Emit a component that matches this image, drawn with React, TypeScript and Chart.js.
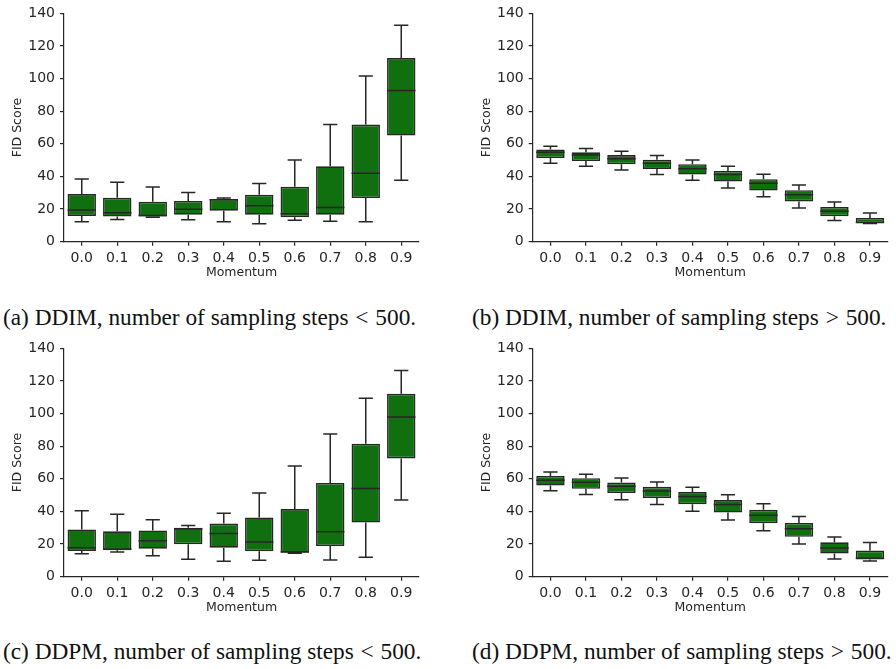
import React, { useEffect, useRef } from "react";
import { Chart, registerables } from "chart.js";

Chart.register(...registerables);

const momentum = ["0.0", "0.1", "0.2", "0.3", "0.4", "0.5", "0.6", "0.7", "0.8", "0.9"];
const yMin = 0;
const yMax = 140;
const yStep = 20;

// (a) DDIM, steps < 500
const ddimLowMin = [12.2, 13.6, 15.0, 13.4, 12.2, 11.0, 13.2, 12.6, 12.2, 37.7];
const ddimLowQ1 = [15.8, 15.4, 15.4, 16.6, 19.0, 16.6, 15.0, 16.6, 26.8, 65.1];
const ddimLowMed = [19.5, 17.8, 16.0, 19.9, 25.8, 22.1, 17.2, 20.9, 42.0, 92.7];
const ddimLowQ3 = [29.2, 27.0, 24.5, 25.0, 26.2, 28.8, 33.7, 46.2, 71.8, 112.6];
const ddimLowMax = [38.5, 36.5, 33.5, 30.2, 26.8, 35.7, 50.1, 71.8, 101.6, 132.7];

// (b) DDIM, steps > 500
const ddimHighMin = [48.1, 46.2, 44.0, 41.2, 37.7, 33.0, 27.6, 20.7, 13.0, 11.2];
const ddimHighQ1 = [51.3, 49.5, 47.5, 44.6, 41.2, 36.9, 31.4, 24.7, 15.6, 11.4];
const ddimHighMed = [54.8, 53.1, 50.9, 48.1, 44.8, 41.2, 35.9, 28.8, 18.7, 11.8];
const ddimHighQ3 = [56.6, 54.8, 53.1, 50.3, 47.5, 43.4, 38.3, 31.6, 21.3, 14.6];
const ddimHighMax = [58.6, 57.2, 55.4, 52.9, 50.1, 46.2, 41.4, 34.7, 24.3, 17.6];

// (c) DDPM, steps < 500
const ddpmLowMin = [14.0, 15.2, 12.8, 10.7, 9.5, 10.1, 14.4, 10.3, 12.0, 47.0];
const ddpmLowQ1 = [15.8, 16.2, 17.2, 19.9, 17.8, 15.6, 14.8, 18.8, 33.2, 72.5];
const ddpmLowMed = [17.8, 17.0, 22.1, 29.2, 26.5, 21.3, 15.2, 27.6, 54.1, 97.9];
const ddpmLowQ3 = [29.0, 27.8, 28.4, 30.0, 32.6, 36.3, 41.5, 57.5, 81.6, 112.2];
const ddpmLowMax = [40.5, 38.3, 35.0, 31.4, 38.9, 51.3, 67.9, 87.5, 109.4, 126.4];

// (d) DDPM, steps > 500
const ddpmHighMin = [52.7, 50.4, 47.2, 44.2, 40.1, 34.8, 28.2, 20.1, 10.9, 9.7];
const ddpmHighQ1 = [55.9, 53.9, 51.3, 48.2, 44.4, 39.3, 32.8, 24.5, 14.2, 10.5];
const ddpmHighMed = [59.2, 57.9, 55.5, 52.5, 49.2, 44.2, 37.7, 29.4, 17.6, 11.3];
const ddpmHighQ3 = [61.8, 60.4, 57.7, 55.1, 51.9, 47.0, 41.1, 33.0, 21.1, 16.0];
const ddpmHighMax = [64.2, 62.8, 60.6, 58.1, 54.9, 50.2, 44.8, 36.9, 24.3, 20.9];

const xTitle = "Momentum";
const yTitle = "FID Score";
const captionLabels = ["(a) DDIM", "(b) DDIM", "(c) DDPM", "(d) DDPM"];
const captionMiddle = ", number of sampling steps";
const captionOps = ["<", ">", "<", ">"];
const captionValue = "500.";

const BOX_FILL = "#107010";
const EDGE = "#262626";
const TEXT = "#262626";
const FONT = "'DejaVu Sans', sans-serif";

type PanelProps = {
  min: number[];
  q1: number[];
  med: number[];
  q3: number[];
  max: number[];
  left: number;
  top: number;
  width: number;
  padLeft: number;
  padRight: number;
};

function BoxPanel(p: PanelProps) {
  const ref = useRef<HTMLCanvasElement | null>(null);
  useEffect(() => {
    if (!ref.current) return;
    const whiskerPlugin = {
      id: "whiskers",
      afterDatasetsDraw(chart: any) {
        const ctx = chart.ctx;
        const meta = chart.getDatasetMeta(0);
        const ys = chart.scales.y;
        ctx.save();
        ctx.strokeStyle = EDGE;
        ctx.lineWidth = 1.5;
        meta.data.forEach((bar: any, i: number) => {
          const x = bar.x;
          const w = bar.width;
          const yLo = ys.getPixelForValue(p.min[i]);
          const yQ1 = ys.getPixelForValue(p.q1[i]);
          const yMd = ys.getPixelForValue(p.med[i]);
          const yQ3 = ys.getPixelForValue(p.q3[i]);
          const yHi = ys.getPixelForValue(p.max[i]);
          ctx.beginPath();
          ctx.moveTo(x, yQ3);
          ctx.lineTo(x, yHi);
          ctx.moveTo(x - w / 4, yHi);
          ctx.lineTo(x + w / 4, yHi);
          ctx.moveTo(x, yQ1);
          ctx.lineTo(x, yLo);
          ctx.moveTo(x - w / 4, yLo);
          ctx.lineTo(x + w / 4, yLo);
          ctx.moveTo(x - w / 2, yMd);
          ctx.lineTo(x + w / 2, yMd);
          ctx.stroke();
        });
        ctx.restore();
      },
    };
    const chart = new Chart(ref.current, {
      type: "bar",
      data: {
        labels: momentum,
        datasets: [
          {
            data: p.q1.map((v, i) => [v, p.q3[i]]) as any,
            backgroundColor: BOX_FILL,
            borderColor: EDGE,
            borderWidth: 1.6,
            borderSkipped: false,
            barPercentage: 0.8,
            categoryPercentage: 1,
          },
        ],
      },
      options: {
        animation: false,
        responsive: false,
        maintainAspectRatio: false,
        layout: { padding: { left: p.padLeft, right: p.padRight, top: 11.7, bottom: 0 } },
        plugins: { legend: { display: false }, tooltip: { enabled: false } },
        scales: {
          x: {
            type: "category",
            offset: true,
            grid: {
              display: true,
              offset: false,
              drawOnChartArea: false,
              drawTicks: true,
              tickLength: 4,
              color: EDGE,
              lineWidth: 1.2,
            },
            border: { display: true, color: EDGE, width: 1.2 },
            ticks: { color: TEXT, font: { family: FONT, size: 14 }, padding: 4, maxRotation: 0 },
            title: {
              display: true,
              text: xTitle,
              color: TEXT,
              font: { family: FONT, size: 12.5 },
              padding: { top: 0, bottom: 9.5 },
            },
            afterFit(scale: any) {
              scale.height = 48.3;
            },
          },
          y: {
            min: yMin,
            max: yMax,
            grid: {
              display: true,
              drawOnChartArea: false,
              drawTicks: true,
              tickLength: 4,
              color: EDGE,
              lineWidth: 1.2,
            },
            border: { display: true, color: EDGE, width: 1.2 },
            ticks: { stepSize: yStep, color: TEXT, font: { family: FONT, size: 14 }, padding: 5 },
            title: {
              display: true,
              text: yTitle,
              color: TEXT,
              font: { family: FONT, size: 12.5 },
              padding: { top: 10.5, bottom: 0 },
            },
            afterFit(scale: any) {
              scale.width = 64;
            },
          },
        },
      } as any,
      plugins: [whiskerPlugin],
    });
    return () => chart.destroy();
  }, []);
  return (
    <div style={{ position: "absolute", left: p.left, top: p.top, width: p.width, height: 290 }}>
      <canvas ref={ref} width={p.width} height={290} style={{ display: "block" }} />
    </div>
  );
}

function Caption({ idx, left, top }: { idx: number; left: number; top: number }) {
  return (
    <div
      style={{
        position: "absolute",
        left,
        top,
        fontFamily: "'Liberation Serif', 'Times New Roman', serif",
        fontSize: 23.3,
        color: "#111",
        whiteSpace: "nowrap",
        lineHeight: "27px",
      }}
    >
      {captionLabels[idx]}
      {captionMiddle}
      <span style={{ margin: "0 1px" }}> {captionOps[idx]} </span>
      {captionValue}
    </div>
  );
}

export default function App() {
  return (
    <div
      style={{
        position: "absolute",
        left: 0,
        top: 0,
        width: 896,
        height: 669,
        background: "#ffffff",
        overflow: "hidden",
      }}
    >
      <BoxPanel min={ddimLowMin} q1={ddimLowQ1} med={ddimLowMed} q3={ddimLowQ3} max={ddimLowMax}
        left={0} top={0} width={440} padLeft={0} padRight={21} />
      <BoxPanel min={ddimHighMin} q1={ddimHighQ1} med={ddimHighMed} q3={ddimHighQ3} max={ddimHighMax}
        left={440} top={0} width={456} padLeft={28.7} padRight={8.3} />
      <BoxPanel min={ddpmLowMin} q1={ddpmLowQ1} med={ddpmLowMed} q3={ddpmLowQ3} max={ddpmLowMax}
        left={0} top={335} width={440} padLeft={0} padRight={21} />
      <BoxPanel min={ddpmHighMin} q1={ddpmHighQ1} med={ddpmHighMed} q3={ddpmHighQ3} max={ddpmHighMax}
        left={440} top={335} width={456} padLeft={28.7} padRight={8.3} />
      <Caption idx={0} left={3} top={303.8} />
      <Caption idx={1} left={472} top={303.8} />
      <Caption idx={2} left={3} top={638.2} />
      <Caption idx={3} left={472} top={638.2} />
    </div>
  );
}
